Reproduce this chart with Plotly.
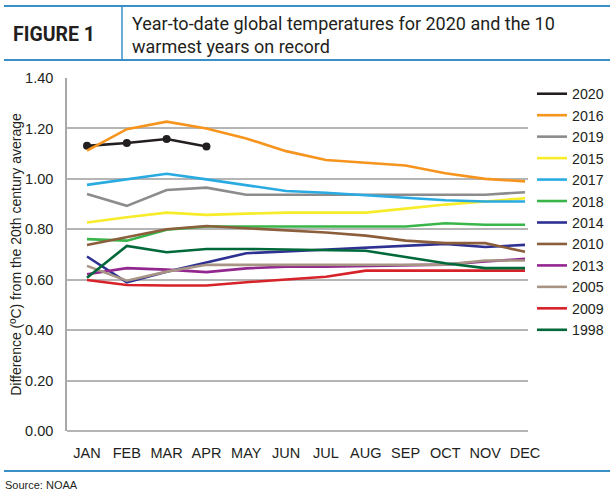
import plotly.graph_objects as go

months = ["JAN", "FEB", "MAR", "APR", "MAY", "JUN", "JUL", "AUG", "SEP", "OCT", "NOV", "DEC"]
y_ticks = [0.0, 0.2, 0.4, 0.6, 0.8, 1.0, 1.2, 1.4]
y_tick_labels = ["0.00", "0.20", "0.40", "0.60", "0.80", "1.00", "1.20", "1.40"]

y2020 = [1.131, 1.142, 1.158, 1.128]
y2016 = [1.112, 1.197, 1.227, 1.200, 1.160, 1.110, 1.075, 1.063, 1.053, 1.022, 1.000, 0.990]
y2019 = [0.940, 0.893, 0.956, 0.965, 0.937, 0.937, 0.937, 0.937, 0.937, 0.937, 0.937, 0.947]
y2015 = [0.827, 0.848, 0.866, 0.857, 0.862, 0.866, 0.866, 0.866, 0.882, 0.898, 0.910, 0.923]
y2017 = [0.976, 0.998, 1.020, 0.998, 0.975, 0.952, 0.945, 0.935, 0.925, 0.915, 0.910, 0.910]
y2018 = [0.761, 0.755, 0.798, 0.811, 0.811, 0.811, 0.811, 0.811, 0.811, 0.824, 0.818, 0.818]
y2014 = [0.692, 0.590, 0.632, 0.670, 0.705, 0.712, 0.720, 0.728, 0.735, 0.742, 0.730, 0.738]
y2010 = [0.738, 0.770, 0.800, 0.813, 0.805, 0.796, 0.787, 0.775, 0.755, 0.745, 0.745, 0.711]
y2013 = [0.622, 0.646, 0.640, 0.630, 0.645, 0.652, 0.652, 0.655, 0.657, 0.660, 0.672, 0.683]
y2005 = [0.655, 0.596, 0.632, 0.659, 0.659, 0.659, 0.659, 0.659, 0.659, 0.660, 0.676, 0.676]
y2009 = [0.599, 0.579, 0.577, 0.577, 0.590, 0.600, 0.612, 0.636, 0.636, 0.636, 0.636, 0.636]
y1998 = [0.608, 0.734, 0.709, 0.722, 0.722, 0.720, 0.720, 0.715, 0.690, 0.665, 0.646, 0.646]

series = [
    ("2020", y2020, "#231f20"),
    ("2016", y2016, "#f7941d"),
    ("2019", y2019, "#8c8c8c"),
    ("2015", y2015, "#f7ec2a"),
    ("2017", y2017, "#29abe2"),
    ("2018", y2018, "#39b54a"),
    ("2014", y2014, "#2e3192"),
    ("2010", y2010, "#8b5e3c"),
    ("2013", y2013, "#92278f"),
    ("2005", y2005, "#a89484"),
    ("2009", y2009, "#d7222a"),
    ("1998", y1998, "#00693a"),
]

W, H = 610, 501
L, R, T, B = 67, 528, 78, 431  # plot area in px


def px_x(p):
    return (p - L) / (R - L)


def px_y(p):
    return (B - p) / (B - T)


NARROW = "Liberation Sans Narrow, Arial Narrow, Liberation Sans, sans-serif"
BLUE = "#3a8fc7"
TXT = "#231f20"

fig = go.Figure()
for name, ys, color in series:
    xs = list(range(len(ys)))
    fig.add_trace(go.Scatter(
        x=xs, y=ys, name=name, mode="lines",
        line=dict(color=color, width=2.6),
        hoverinfo="skip",
    ))
    if name == "2020":
        fig.add_trace(go.Scatter(
            x=xs, y=ys, name=name, mode="markers",
            marker=dict(size=8, color=color),
            showlegend=False, hoverinfo="skip",
        ))

shapes = []
for yy in [px_y(6), px_y(60), px_y(471)]:
    shapes.append(dict(type="line", xref="paper", yref="paper",
                       x0=px_x(4), x1=px_x(610), y0=yy, y1=yy,
                       line=dict(color=BLUE, width=2)))
shapes.append(dict(type="line", xref="paper", yref="paper",
                   x0=px_x(122), x1=px_x(122), y0=px_y(6), y1=px_y(60),
                   line=dict(color=BLUE, width=1.5)))

annotations = [
    dict(text="<b>FIGURE 1</b>", xref="paper", yref="paper",
         x=px_x(11), y=px_y(34), xanchor="left", yanchor="middle",
         showarrow=False, font=dict(family="Roboto, sans-serif", size=19.5, color=TXT)),
    dict(text="Year-to-date global temperatures for 2020 and the 10<br>warmest years on record",
         xref="paper", yref="paper", x=px_x(130), y=px_y(35), xanchor="left", yanchor="middle",
         align="left", showarrow=False,
         font=dict(family="Roboto, sans-serif", size=18, color=TXT)),
    dict(text="Source: NOAA", xref="paper", yref="paper", x=px_x(3), y=px_y(485),
         xanchor="left", yanchor="middle", showarrow=False,
         font=dict(family="Liberation Sans, Arial, sans-serif", size=11, color=TXT)),
]

fig.update_layout(
    width=W, height=H,
    margin=dict(l=L, r=W - R, t=T, b=H - B, pad=0, autoexpand=False),
    paper_bgcolor="white", plot_bgcolor="white",
    shapes=shapes, annotations=annotations,
    showlegend=True,
    legend=dict(x=px_x(532), y=px_y(78), xanchor="left", yanchor="top",
                font=dict(family=NARROW, size=14.2, color=TXT),
                bgcolor="rgba(0,0,0,0)", borderwidth=0, tracegroupgap=0,
                itemclick=False, itemdoubleclick=False),
    xaxis=dict(
        range=[-0.502, 11.075],
        tickmode="array", tickvals=list(range(12)), ticktext=months,
        showgrid=False, zeroline=False, showline=False,
        ticks="", ticklabelstandoff=11,
        tickfont=dict(family=NARROW, size=14.5, color=TXT),
        fixedrange=True,
    ),
    yaxis=dict(
        range=[0, 1.4],
        tickmode="array", tickvals=y_ticks, ticktext=y_tick_labels,
        showgrid=True, gridcolor="#b5b5b5", gridwidth=1.5,
        zeroline=True, zerolinecolor="#b5b5b5", zerolinewidth=1.5,
        showline=True, linecolor="#a8a8a8", linewidth=1.5,
        ticks="", ticklabelstandoff=9,
        tickfont=dict(family=NARROW, size=14.5, color=TXT),
        title=dict(text="Difference (ºC) from the 20th century average",
                   font=dict(family=NARROW, size=14, color=TXT), standoff=0),
        fixedrange=True,
    ),
)

fig.write_html("out.html")
